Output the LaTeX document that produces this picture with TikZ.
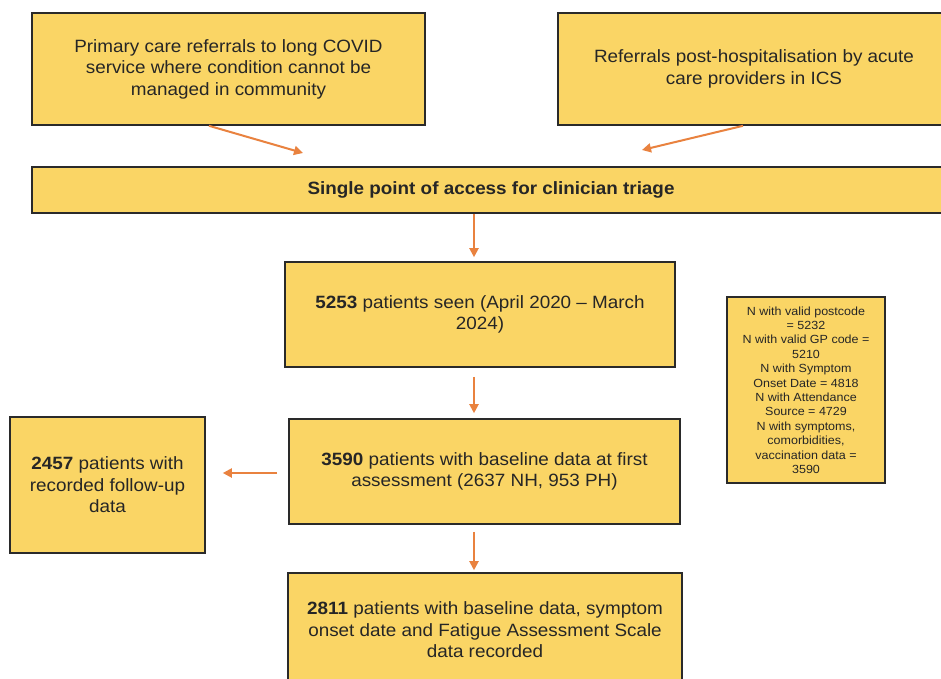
\documentclass[tikz,border=0pt]{standalone}
\usepackage{fontspec}
\setmainfont[FakeStretch=1.06]{Liberation Sans}
\usetikzlibrary{arrows.meta,calc}
\definecolor{boxfill}{HTML}{FAD565}
\definecolor{arrowc}{HTML}{E9823F}
\definecolor{edge}{HTML}{2A2A2A}
\definecolor{txt}{HTML}{262626}
\begin{document}
\begin{tikzpicture}[x=1pt,y=-1pt,
  box/.style={draw=edge,line width=1.6pt,fill=boxfill,text=txt,align=center,inner sep=0pt,
    font=\fontsize{17.8}{21.5}\selectfont},
  smallbox/.style={box,font=\fontsize{11.8}{14.4}\selectfont},
  arr/.style={draw=arrowc,line width=2pt,-{Triangle[length=9pt,width=9pt]}}]
\clip (0,0) rectangle (941,678);
\fill[white] (0,0) rectangle (941,678);
\node[box,minimum width=393pt,minimum height=112pt] (b1) at (228.5,69)
  {Primary care referrals to long COVID\\service where condition cannot be\\managed in community};
\node[box,minimum width=392pt,minimum height=112pt] (b2) at (754,69)
  {Referrals post-hospitalisation by acute\\care providers in ICS};
\node[box,minimum width=918pt,minimum height=46pt] (tri) at (491,190)
  {\textbf{Single point of access for clinician triage}};
\node[box,minimum width=390pt,minimum height=105pt] (seen) at (480,314.5)
  {\textbf{5253} patients seen (April 2020 -- March\\2024)};
\node[box,minimum width=391pt,minimum height=105pt] (base) at (484.5,471.5)
  {\textbf{3590} patients with baseline data at first\\assessment (2637 NH, 953 PH)};
\node[box,minimum width=195pt,minimum height=136pt] (fol) at (107.5,485)
  {\textbf{2457} patients with\\recorded follow-up\\data};
\node[smallbox,minimum width=158pt,minimum height=186pt] (nvalid) at (806,390)
  {N with valid postcode\\= 5232\\N with valid GP code =\\5210\\N with Symptom\\Onset Date = 4818\\N with Attendance\\Source = 4729\\N with symptoms,\\comorbidities,\\vaccination data =\\3590};
\node[box,minimum width=394pt,minimum height=114pt] (fas) at (485,630)
  {\textbf{2811} patients with baseline data, symptom\\onset date and Fatigue Assessment Scale\\data recorded};
\coordinate (e1) at (303,153);
\coordinate (e2) at (642,150);
\draw[arr] ([xshift=-19.5pt]b1.south) -- (e1);
\draw[arr] ([xshift=-11pt]b2.south) -- (e2);
\draw[arr,shorten >=4pt] ([xshift=-17pt]tri.south) -- ([xshift=-17pt]tri.south |- seen.north);
\draw[arr,shorten <=9pt,shorten >=5pt] ([xshift=-6pt]seen.south) -- ([xshift=-6pt]seen.south |- base.north);
\draw[arr,shorten <=11pt,shorten >=17pt] ([yshift=-1.5pt]base.west) -- ([yshift=-1.5pt]base.west -| fol.east);
\draw[arr,shorten <=7pt,shorten >=2pt] ([xshift=-10.5pt]base.south) -- ([xshift=-10.5pt]base.south |- fas.north);
\end{tikzpicture}
\end{document}
